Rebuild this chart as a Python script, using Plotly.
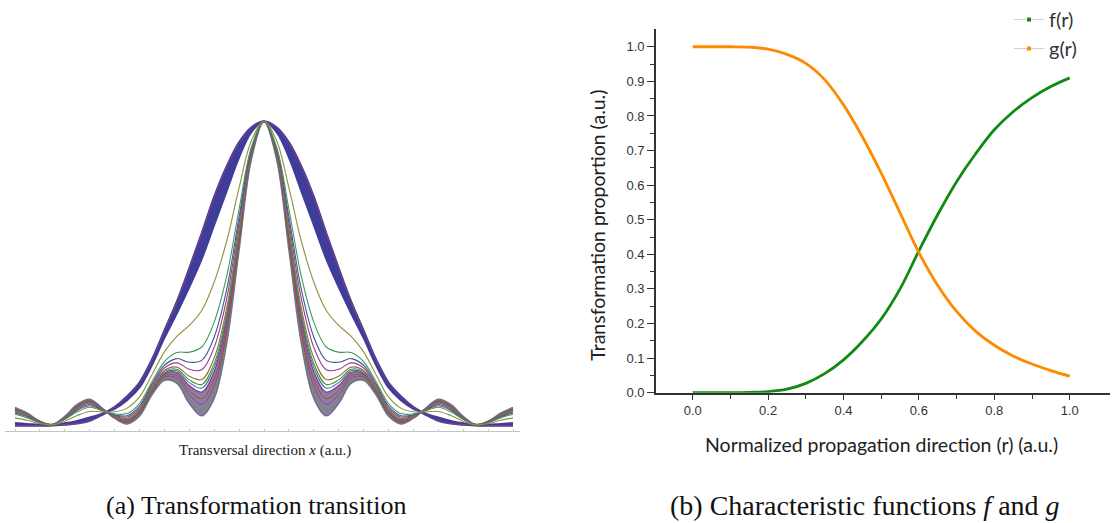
import plotly.graph_objects as go

W_PX, H_PX = 1112, 523

# ---------------- Panel (a): transverse profiles (half profile, mirrored) ----------------
half_x = [0, 0.5, 1.0, 1.5, 2.0, 2.5, 3.0, 3.5, 4.0, 4.5, 5.0, 5.5, 6.0, 6.5, 7.0,
          7.5, 8.0, 8.5, 9.0, 9.5, 10.0]

wide_outer = [1.0, .98, .93, .85, .75, .63, .515, .405, .31, .215, .14, .095, .06, .036, .016,
              .007, .003, .001, 0, 0, 0]
wide_inner = [1.0, .966, .882, .771, .66, .548, .455, .369, .288, .199, .125, .083, .055, .039, .026,
              .015, .007, .001, .002, .005, .008]
olive = [1.0, .938, .782, .606, .472, .378, .329, .293, .242, .167, .094, .057, .045, .045, .046,
         .033, .014, .002, .006, .017, .025]
green1 = [1.0, .917, .712, .49, .34, .258, .241, .24, .21, .144, .072, .039, .038, .049, .06,
          .045, .02, .002, .009, .025, .037]
blue1 = [1.0, .91, .686, .447, .291, .214, .208, .22, .198, .136, .064, .032, .035, .051, .065,
         .05, .021, .002, .01, .028, .041]
magenta1 = [1.0, .905, .667, .417, .257, .183, .185, .206, .189, .13, .058, .028, .033, .052, .069,
            .053, .023, .002, .011, .03, .044]
brown1 = [1.0, .899, .649, .386, .222, .151, .162, .192, .181, .124, .053, .023, .031, .053, .072,
          .056, .024, .003, .011, .032, .047]
green2 = [1.0, .897, .64, .371, .204, .135, .15, .185, .177, .121, .05, .02, .03, .053, .074,
          .058, .025, .003, .012, .033, .049]
teal1 = [1.0, .895, .632, .359, .191, .123, .141, .18, .173, .118, .047, .019, .029, .054, .076,
         .059, .026, .003, .012, .034, .05]
bundle_top = [1.0, .893, .625, .347, .177, .11, .131, .174, .17, .116, .045, .017, .029, .054, .077,
              .061, .026, .003, .012, .035, .051]
bundle_2 = [1.0, .889, .612, .325, .152, .088, .115, .164, .164, .112, .041, .013, .027, .055, .08,
            .063, .027, .003, .013, .036, .053]
bundle_mid = [1.0, .886, .601, .307, .131, .069, .101, .156, .159, .108, .038, .01, .026, .056, .082,
              .065, .028, .003, .013, .037, .055]
bundle_4 = [1.0, .882, .59, .289, .111, .05, .087, .147, .154, .105, .034, .008, .025, .056, .084,
            .067, .029, .003, .014, .039, .057]
bundle_bottom = [1.0, .879, .579, .271, .09, .032, .073, .139, .149, .101, .031, .005, .024, .057, .086,
                 .069, .03, .003, .014, .04, .059]

# ---------------- Panel (b): characteristic functions ----------------
r_vals = [0.0, 0.05, 0.1, 0.15, 0.2, 0.25, 0.3, 0.35, 0.4, 0.45, 0.5, 0.55, 0.6, 0.65, 0.7,
          0.75, 0.8, 0.85, 0.9, 0.95, 1.0]
f_vals = [0, 0, 0, .001, .003, .01, .027, .055, .095, .148, .213, .3, .41, .515, .61,
          .69, .76, .812, .853, .885, .91]
g_vals = [1.0, 1.0, 1.0, .999, .993, .978, .952, .905, .832, .74, .635, .52, .405, .31, .235,
          .178, .137, .106, .083, .064, .048]


def full_x():
    return [-v for v in reversed(half_x[1:])] + list(half_x)


def full_y(vals):
    return list(reversed(vals[1:])) + list(vals)


fig = go.Figure()
X = full_x()


def curve(vals, color, width=1.1, fill=None, fillcolor=None):
    fig.add_trace(go.Scatter(
        x=X, y=full_y(vals), mode="lines", xaxis="x", yaxis="y",
        line=dict(color=color, width=width, shape="spline", smoothing=1.0),
        fill=fill, fillcolor=fillcolor, showlegend=False, hoverinfo="skip"))


# wide band
curve(wide_inner, "#3E3D99", 2.0)
curve(wide_outer, "#3E3D99", 2.6, fill="tonexty", fillcolor="#3E3D99")
curve(wide_outer, "#993D71", 0.8)
# narrow bundle
curve(bundle_bottom, "#76689A", 1.6)
curve(bundle_top, "#873D99", 1.3, fill="tonexty", fillcolor="#8C7FA0")
curve(bundle_4, "#5E993D", 1.0)
curve(bundle_mid, "#993D8E", 1.0)
curve(bundle_2, "#99513D", 1.0)
# intermediate curves
curve(teal1, "#3D7699")
curve(green2, "#41993D")
curve(brown1, "#996F3D")
curve(magenta1, "#993D8E")
curve(blue1, "#3D5999")
curve(green1, "#3D9957")
curve(olive, "#998C3D")

# panel (b) curves
fig.add_trace(go.Scatter(x=r_vals, y=f_vals, mode="lines", xaxis="x2", yaxis="y2",
                         line=dict(color="#118A11", width=2.8, shape="spline"),
                         showlegend=False, hoverinfo="skip"))
fig.add_trace(go.Scatter(x=r_vals, y=g_vals, mode="lines", xaxis="x2", yaxis="y2",
                         line=dict(color="#FF8A00", width=2.8, shape="spline"),
                         showlegend=False, hoverinfo="skip"))
# legend entries
fig.add_trace(go.Scatter(x=[None], y=[None], mode="lines+markers", name="f(r)", xaxis="x2", yaxis="y2",
                         line=dict(color="#D0D0D0", width=1),
                         marker=dict(symbol="square", size=4, color="#118A11")))
fig.add_trace(go.Scatter(x=[None], y=[None], mode="lines+markers", name="g(r)", xaxis="x2", yaxis="y2",
                         line=dict(color="#D0D0D0", width=1),
                         marker=dict(symbol="square", size=4, color="#FF8A00")))


def px(x):
    return x / W_PX


def py(y):
    return 1 - y / H_PX


def note(x, y, text, family, size, color="#222222", angle=0):
    return dict(x=px(x), y=py(y), xref="paper", yref="paper", showarrow=False,
                xanchor="center", yanchor="middle", textangle=angle, text=text,
                font=dict(family=family, size=size, color=color))


cx, sx = 264.0, 24.9
fig.update_layout(
    width=W_PX, height=H_PX, autosize=False,
    margin=dict(l=0, r=0, t=0, b=0),
    paper_bgcolor="white", plot_bgcolor="white",
    xaxis=dict(domain=[px(5), px(520)], range=[(5 - cx) / sx, (520 - cx) / sx],
               showline=True, linecolor="#C4C4C4", linewidth=1,
               ticks="inside", ticklen=2, tickcolor="#C8C8C8", dtick=1, tick0=0,
               showticklabels=False, showgrid=False, zeroline=False, anchor="y"),
    yaxis=dict(domain=[py(437.3), py(110)], range=[-0.018, 1.038], visible=False, anchor="x"),
    xaxis2=dict(domain=[px(656), px(1110)], range=[(656 - 692.7) / 377, (1110 - 692.7) / 377],
                showline=True, linecolor="#333333", linewidth=1.8,
                ticks="outside", ticklen=5, tickwidth=1.2, tickcolor="#333333",
                tickvals=[0, 0.2, 0.4, 0.6, 0.8, 1.0], ticktext=["0.0", "0.2", "0.4", "0.6", "0.8", "1.0"],
                minor=dict(ticks="outside", ticklen=4, tickwidth=1.2, tickcolor="#333333",
                           tickvals=[-0.1, 0.1, 0.3, 0.5, 0.7, 0.9]),
                tickfont=dict(family="Liberation Sans", size=13, color="#333333"),
                showgrid=False, zeroline=False, anchor="y2"),
    yaxis2=dict(domain=[py(398.3), py(28)], range=[0, 1.05],
                showline=True, linecolor="#333333", linewidth=1.8,
                ticks="outside", ticklen=7, tickwidth=1.2, tickcolor="#333333",
                tickvals=[i / 10 for i in range(11)], ticktext=[f"{i / 10:.1f}" for i in range(11)],
                minor=dict(ticks="outside", ticklen=4, tickwidth=1.2, tickcolor="#333333",
                           tickvals=[i / 10 + 0.05 for i in range(10)]),
                tickfont=dict(family="Liberation Sans", size=13, color="#333333"),
                showgrid=False, zeroline=False, anchor="x2"),
    legend=dict(x=px(1009), y=py(-2), xanchor="left", yanchor="top", traceorder="normal",
                font=dict(family="Lato", size=20, color="#333333"),
                bgcolor="rgba(0,0,0,0)", itemwidth=30, tracegroupgap=0),
    annotations=[
        note(265, 457, "Transversal direction <i>x</i> (a.u.)", "Liberation Serif", 15),
        note(598, 228, "Transformation proportion (a.u.)", "Lato", 19.5, angle=-90),
        note(881, 451, "Normalized propagation direction (r) (a.u.)", "Lato", 19.5),
        note(256, 513, "(a) Transformation transition", "Liberation Serif", 26, "#111111"),
        note(865, 513, "(b) Characteristic functions <i>f</i> and <i>g</i>", "Liberation Serif", 28, "#111111"),
    ],
)

fig.write_html("out.html", config={"displayModeBar": False},
               post_script="document.body.style.margin='0px';")
